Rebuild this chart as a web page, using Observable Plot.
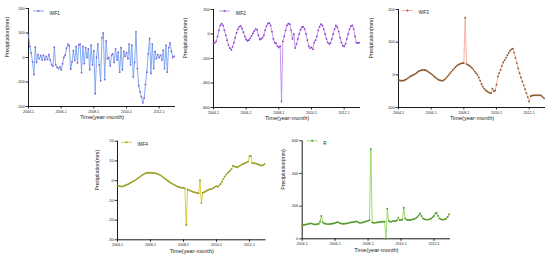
<!DOCTYPE html>
<html><head><meta charset="utf-8">
<script src="https://cdn.jsdelivr.net/npm/d3@7"></script>
<script src="https://cdn.jsdelivr.net/npm/@observablehq/plot@0.6"></script>
<style>
body{margin:0;background:#fff;}
#fig{position:relative;width:550px;height:261px;overflow:hidden;background:#fff;}
#fig svg{position:absolute;overflow:visible;}
</style></head><body><div id="fig"></div>
<script>
// ---- data (monthly, 2004-1 .. 2012-12) ----
const tickLabels = ["2004-1","2006-1","2008-1","2010-1","2012-1"];
const xLabel = "Time(year-month)";
const yLabel = "Precipitation(mm)";

const imf1 = [
92,45,18,-18,-70,42,-20,12,-5,8,-10,10,
-10,5,-8,12,-10,-30,-35,42,-30,-40,-45,-38,
-50,-25,0,10,38,55,48,-48,-18,28,-12,45,
-22,52,55,-62,45,-25,40,0,35,-50,50,-30,
28,-148,0,55,-30,-95,80,100,-90,68,-5,0,
-35,10,15,-20,35,-10,22,-60,40,-50,25,5,
20,-5,55,-30,50,-80,-20,105,-45,-115,-140,-160,
-185,-165,-110,-60,15,78,-65,55,-45,25,-5,12,
0,10,-10,30,-45,50,-60,40,60,25,0,5];

const imf2 = [
-75,-72,-60,-20,30,70,85,70,30,-10,-50,-90,
-115,-130,-105,-70,-30,10,40,60,65,45,15,-20,
-45,-55,-50,-35,-15,5,25,40,35,-10,-45,-40,
-30,-10,30,65,85,90,70,20,-40,-70,-75,-100,
-110,-100,-550,-60,-20,30,70,85,80,30,-40,0,
-115,-80,-40,0,35,55,60,40,0,-50,-100,-115,
-110,-125,-70,-50,-20,30,60,80,70,40,0,-40,
-70,-80,-75,-40,0,40,70,55,20,-30,-70,-95,
-100,-80,-40,0,40,65,70,40,-20,-70,-75,-70];

const imf3 = [
-15,-17,-18,-18,-17,-15,-13,-10,-7,-4,-2,0,
2,5,8,11,13,14,15,15,14,12,9,6,
3,0,-4,-8,-11,-14,-16,-17,-18,-17,-14,-10,
-5,0,5,10,15,20,24,28,31,33,35,36,
36,175,33,31,28,25,21,16,10,5,0,-8,
-18,-28,-36,-42,-47,-50,-53,-55,-56,-42,-50,-48,
-30,-5,5,15,27,38,45,52,60,67,74,78,
80,68,52,36,20,5,-8,-20,-32,-44,-56,-68,
-82,-65,-64,-63,-62,-63,-62,-63,-62,-64,-68,-72];

const imf4 = [
-2.5,-2.7,-2.9,-3.0,-2.9,-2.6,-2.3,-2.0,-1.7,-1.3,-0.9,-0.5,
-0.1,0.3,0.8,1.3,1.8,2.3,2.8,3.2,3.6,3.9,4.0,4.0,
4.0,3.9,3.9,3.8,3.7,3.5,3.2,2.8,2.3,1.8,1.3,0.7,
0.2,-0.3,-0.8,-1.2,-1.6,-2.0,-2.4,-2.8,-3.1,-3.3,-3.5,-3.6,
-3.7,-3.9,-22.5,-4.5,-4.8,-5.1,-5.4,-5.7,-5.9,-6.1,-6.3,-6.4,
0.2,-11.4,-6.2,-5.9,-5.5,-5.1,-4.7,-4.4,-4.2,-4.0,-3.6,-3.0,
-2.8,-3.2,-2.4,-1.7,-0.5,0.8,2.0,3.0,3.8,4.5,5.2,6.0,
7.6,7.2,7.0,6.8,7.1,7.5,8.0,8.3,8.6,9.0,9.3,9.6,
12.4,12.6,9.0,8.9,8.8,8.6,8.3,8.0,7.8,7.6,8.0,8.5];

const resid = [
85,85,86,88,90,92,95,93,90,88,88,90,
92,105,140,100,95,92,90,90,90,92,92,95,
97,100,102,98,95,92,92,92,94,95,97,100,
100,102,104,106,105,100,98,98,100,102,105,108,
110,115,550,100,98,98,100,100,102,104,105,105,
105,0,185,110,105,105,108,108,110,112,130,115,
115,118,190,125,118,115,115,115,118,120,122,128,
135,145,155,140,125,120,118,118,118,120,125,132,
140,155,160,140,125,120,118,118,120,125,135,150];

// ---- helpers ----
const parseYM = s => { const [y, m] = s.split("-").map(Number); return new Date(Date.UTC(y, m - 1, 1)); };
const months = d3.utcMonth.range(parseYM("2004-1"), parseYM("2013-1"));
const tickDates = tickLabels.map(parseYM);
const fmtTick = d => tickLabels[tickDates.findIndex(t => +t === +d)];
const xDomain = [parseYM("2004-1"), parseYM("2013-1")];
const FONT = "Arial, 'Liberation Sans', sans-serif";

const panels = [
  {name:"IMF1", values:imf1, left:0,   top:0,   width:185, height:125, mL:28, mR:10, mT:8,  mB:19,
   yDomain:[-200,200], yTicks:[-200,-100,0,100,200], line:"#6f9cf0", dot:"#8462d6", yDx:-21, xDy:12, lgX:5, lgY:3},
  {name:"IMF2", values:imf2, left:180, top:0,   width:185, height:125, mL:33, mR:5,  mT:9,  mB:18,
   yDomain:[-600,200], yTicks:[-600,-400,-200,0,200], line:"#b886e8", dot:"#9040cf", yDx:-28, xDy:12, lgX:6, lgY:2},
  {name:"IMF3", values:imf3, left:365, top:0,   width:185, height:125, mL:33, mR:5,  mT:9,  mB:18,
   yDomain:[-100,200], yTicks:[-100,0,100,200], line:"#f3a494", dot:"#875525", yDx:-27, xDy:12, lgX:4, lgY:1.5},
  {name:"IMF4", values:imf4, left:90,  top:125, width:185, height:136, mL:27, mR:9.5, mT:15.7, mB:21.7,
   yDomain:[-30,20], yTicks:[-30,-20,-10,0,10,20], line:"#d6c61e", dot:"#939c28", yDx:-20, xDy:13.5, lgX:4, lgY:1.6},
  {name:"R",    values:resid, left:270, top:125, width:185, height:136, mL:31.7, mR:5, mT:15.3, mB:22.7,
   yDomain:[0,600], yTicks:[0,200,400,600], line:"#8ad356", dot:"#52962a", yDx:-19, xDy:13.5, lgX:5, lgY:0.5}
];

const fig = document.getElementById("fig");
for (const p of panels) {
  const data = p.values.map((v, i) => ({date: months[i], v}));
  const svg = Plot.plot({
    width: p.width, height: p.height,
    marginLeft: p.mL, marginRight: p.mR, marginTop: p.mT, marginBottom: p.mB,
    style: {background: "transparent", fontFamily: FONT, fontSize: "4px", color: "#222", overflow: "visible"},
    x: {type: "utc", domain: xDomain},
    y: {domain: p.yDomain},
    marks: [
      Plot.axisX(tickDates, {tickSize: 2.5, tickPadding: 1.5, fontSize: 3.6, tickFormat: fmtTick, label: null, stroke: "#000", strokeWidth: 0.8}),
      Plot.axisY(p.yTicks, {tickSize: 2.5, tickPadding: 1.5, fontSize: 3.8, tickFormat: d => String(d), label: null, stroke: "#000", strokeWidth: 0.8}),
      Plot.ruleX([xDomain[0]], {stroke: "#000", strokeWidth: 0.9}),
      Plot.ruleY([p.yDomain[0]], {stroke: "#000", strokeWidth: 0.9}),
      Plot.line(data, {x: "date", y: "v", stroke: p.line, strokeWidth: 0.85}),
      Plot.dot(data, {x: "date", y: "v", r: 0.9, fill: p.dot, stroke: null}),
      // axis titles
      Plot.text([xLabel], {text: d => d, frameAnchor: "bottom", dy: p.xDy, fontSize: 5.6, fill: "#222"}),
      Plot.text([yLabel], {text: d => d, frameAnchor: "left", dx: p.yDx, rotate: -90, fontSize: 5.2, fill: "#222"}),
      // legend label
      Plot.text([p.name], {text: d => d, frameAnchor: "top-left", dx: p.lgX + 16, dy: p.lgY, textAnchor: "start", fontSize: 4.5, fill: "#222"})
    ]
  });
  // legend swatch (line with marker)
  const g = d3.select(svg).append("g");
  const lx = p.mL + p.lgX, ly = p.mT + p.lgY;
  g.append("line").attr("x1", lx).attr("x2", lx + 11).attr("y1", ly).attr("y2", ly)
    .attr("stroke", p.line).attr("stroke-width", 0.85);
  g.append("circle").attr("cx", lx + 5.5).attr("cy", ly).attr("r", 1).attr("fill", p.dot);
  svg.style.left = p.left + "px";
  svg.style.top = p.top + "px";
  fig.appendChild(svg);
}
</script>
</body></html>
